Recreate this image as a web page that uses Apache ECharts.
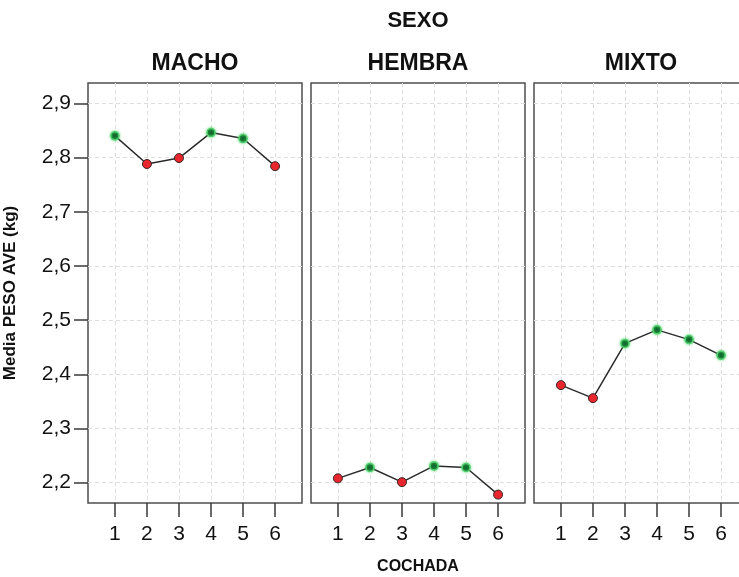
<!DOCTYPE html>
<html>
<head>
<meta charset="utf-8">
<script src="https://cdn.jsdelivr.net/npm/echarts@6/dist/echarts.min.js"></script>
<style>
  html, body { margin: 0; padding: 0; background: #ffffff; overflow: hidden; }
  /* the canvas is a little wider than the window so the last panel runs off the right edge */
  #chart { width: 760px; height: 577px; }
</style>
</head>
<body>
<div id="chart"></div>
<script>
// Mean bird weight per batch (COCHADA), one panel per sex group (SEXO)
const cochadas = [1, 2, 3, 4, 5, 6];
const sexos = ['MACHO', 'HEMBRA', 'MIXTO'];
const pesoMacho = [2.840, 2.788, 2.799, 2.846, 2.835, 2.784];
const pesoHembra = [2.208, 2.228, 2.201, 2.231, 2.228, 2.178];
const pesoMixto = [2.380, 2.356, 2.457, 2.482, 2.464, 2.435];
const yTickValues = [2.2, 2.3, 2.4, 2.5, 2.6, 2.7, 2.8, 2.9];

const FONT = "'Liberation Sans', Arial, sans-serif";
const valuesBySexo = [pesoMacho, pesoHembra, pesoMixto];

// panel boxes: left edge and width in px
const panelLeft = [88, 311, 534];
const panelWidth = 214;
const panelTop = 83;
const panelBottom = 74;

const gridLine = { show: true, lineStyle: { color: '#dedede', type: [4, 3], width: 1 } };

const grids = [], xAxes = [], yAxes = [], series = [];

valuesBySexo.forEach((vals, i) => {
  grids.push({
    left: panelLeft[i], width: panelWidth, top: panelTop, bottom: panelBottom,
    show: true, borderColor: '#4d4d4d', borderWidth: 1.5, backgroundColor: 'transparent'
  });
  xAxes.push({
    type: 'value', gridIndex: i, min: 0.16, max: 6.84,
    axisLine: { show: false },
    axisTick: { show: true, inside: false, length: 14, customValues: cochadas,
      lineStyle: { color: '#3a3a3a', width: 1.5 } },
    axisLabel: { show: true, customValues: cochadas, margin: 21,
      fontFamily: FONT, fontSize: 21, color: '#111' },
    splitLine: gridLine
  });
  yAxes.push({
    type: 'value', gridIndex: i, min: 2.1625, max: 2.9375,
    axisLine: { show: false },
    axisTick: { show: i === 0, length: 14, customValues: yTickValues,
      lineStyle: { color: '#3a3a3a', width: 1.5 } },
    axisLabel: { show: i === 0, customValues: yTickValues, margin: 17,
      fontFamily: FONT, fontSize: 21, color: '#111',
      formatter: v => v.toFixed(1).replace('.', ',') },
    splitLine: gridLine,
    name: i === 0 ? 'Media PESO AVE (kg)' : '',
    nameLocation: 'middle', nameGap: 69, nameRotate: 90,
    nameTextStyle: { fontFamily: FONT, fontSize: 17, fontWeight: 'bold', color: '#111' }
  });

  // points above the panel's mean are drawn green, the rest red
  const mean = vals.reduce((a, b) => a + b, 0) / vals.length;
  series.push({
    type: 'line', xAxisIndex: i, yAxisIndex: i,
    symbol: 'circle',
    lineStyle: { color: '#2b2b2b', width: 1.5 },
    data: vals.map((v, k) => {
      const high = v > mean;
      return {
        value: [cochadas[k], v],
        symbolSize: high ? 8 : 9,
        itemStyle: high
          ? { color: '#0d6429', borderColor: '#4fd06b', borderWidth: 1.5,
              shadowColor: 'rgba(80,210,110,0.8)', shadowBlur: 3 }
          : { color: '#e8262e', borderColor: '#3a2626', borderWidth: 1 }
      };
    }),
    z: 5
  });
});

const chart = echarts.init(document.getElementById('chart'), null, { renderer: 'canvas' });
chart.setOption({
  backgroundColor: '#ffffff',
  animation: false,
  grid: grids,
  xAxis: xAxes,
  yAxis: yAxes,
  series: series,
  graphic: [
    { type: 'text', x: 418, y: 21, style: { text: 'SEXO', fontFamily: FONT, fontSize: 22, fontWeight: 'bold',
        fill: '#111', align: 'center', verticalAlign: 'middle' } },
    ...sexos.map((s, i) => ({
      type: 'text', x: panelLeft[i] + panelWidth / 2, y: 64,
      style: { text: s, fontFamily: FONT, fontSize: 23, fontWeight: 'bold', fill: '#111',
        align: 'center', verticalAlign: 'middle' }
    })),
    { type: 'text', x: 418, y: 567, style: { text: 'COCHADA', fontFamily: FONT, fontSize: 16, fontWeight: 'bold',
        fill: '#111', align: 'center', verticalAlign: 'middle' } }
  ]
});
</script>
</body>
</html>
